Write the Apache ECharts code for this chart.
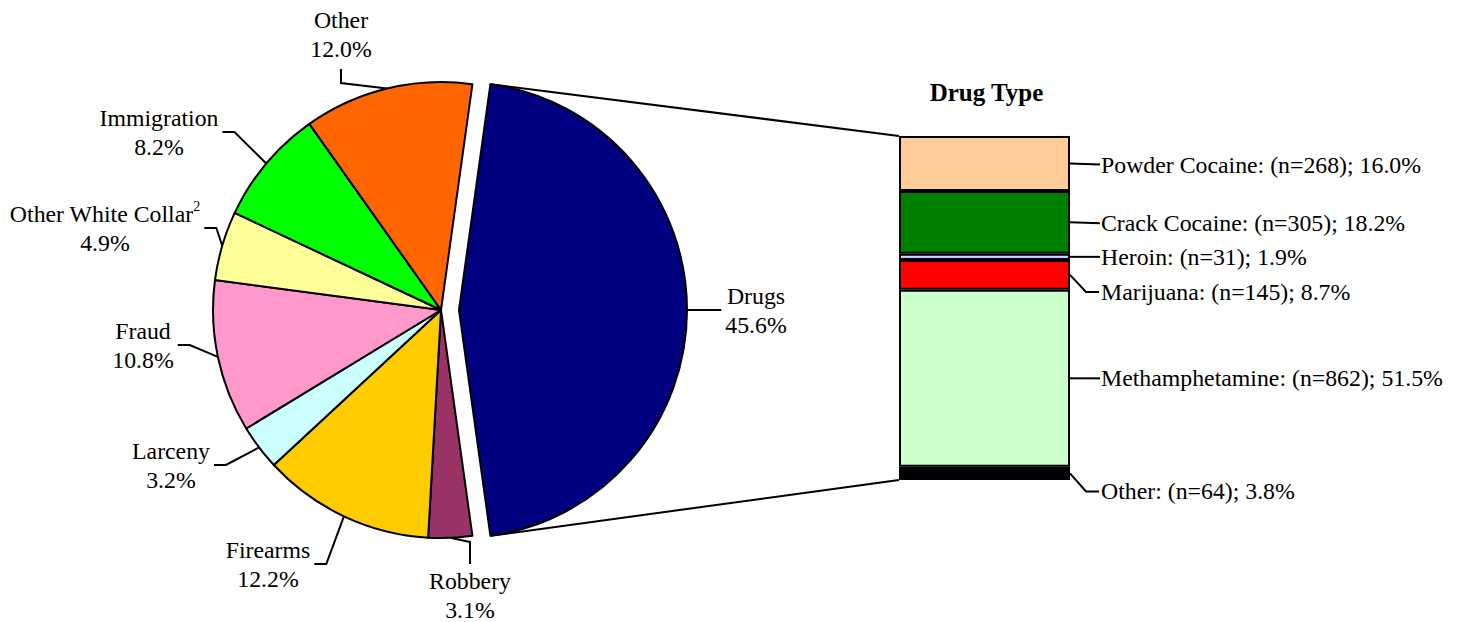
<!DOCTYPE html>
<html><head><meta charset="utf-8">
<script src="https://cdn.jsdelivr.net/npm/echarts@6/dist/echarts.min.js"></script>
<style>html,body{margin:0;padding:0;background:#fff}#c{width:1458px;height:622px}</style>
</head><body><div id="c"></div>
<script>
// ---------------- data ----------------
const offenseNames = ['Drugs', 'Robbery', 'Firearms', 'Larceny', 'Fraud', 'Other White Collar', 'Immigration', 'Other'];
const offenseShares = [45.6, 3.1, 12.2, 3.2, 10.8, 4.9, 8.2, 12.0];
const offenseNotes = ['', '', '', '', '', '2', '', ''];
const drugTitle = 'Drug Type';
const drugTypes = ['Powder Cocaine', 'Crack Cocaine', 'Heroin', 'Marijuana', 'Methamphetamine', 'Other'];
const drugCounts = [268, 305, 31, 145, 862, 64];
const drugShares = [16.0, 18.2, 1.9, 8.7, 51.5, 3.8];

// ---------------- styles / layout ----------------
const FONT = '"Liberation Serif", "Times New Roman", serif';
const FS = 23.8, LH = 29;
const LW = 2;
const offenseColors = ['#000080', '#993366', '#FFCC00', '#CCFFFF', '#FF99CC', '#FFFF99', '#00FF00', '#FF6600'];
const drugColors = ['#FFCC99', '#008000', '#CCCCFF', '#FF0000', '#CCFFCC', '#000000'];
const PIE = { cx: 441, cy: 310, r: 228, explode: 18 };
const explodedIndex = 0;
const BAR = { left: 899, right: 1070, top: 136, bottom: 480 };
const pieLabelPos = [
  { x: 756, y: 310, side: 'right' },
  { x: 470, y: 595, side: 'bottom' },
  { x: 268, y: 564, side: 'left' },
  { x: 171, y: 465, side: 'left' },
  { x: 143, y: 345, side: 'left' },
  { x: 105, y: 228, side: 'left' },
  { x: 159, y: 132, side: 'left' },
  { x: 341, y: 34, side: 'top' }
];
const barLabelDy = [1, 1, 0, 17, 0, 18];

const shareTotal = offenseShares.reduce((a, b) => a + b, 0);
const drugTotal = drugCounts.reduce((a, b) => a + b, 0);
const startAngle = 180 * offenseShares[explodedIndex] / shareTotal;

const chart = echarts.init(document.getElementById('c'), null, { renderer: 'svg' });

function pieLabelLayout(p) {
  const pos = pieLabelPos[p.dataIndex];
  if (!pos || !p.labelRect) return {};
  const x = pos.x, y = pos.y;
  const w = p.labelRect.width, h = p.labelRect.height;
  const s = p.labelLinePoints ? p.labelLinePoints[0] : [x, y];
  let pts;
  if (pos.side === 'right') {
    const e = [x - w / 2 - 4, y];
    pts = [s, [(s[0] + e[0]) / 2, (s[1] + e[1]) / 2], e];
  } else if (pos.side === 'left') {
    pts = [s, [x + w / 2 + 16, y], [x + w / 2 + 4, y]];
  } else if (pos.side === 'top') {
    pts = [s, [x, y + h / 2 + 20], [x, y + h / 2 + 6]];
  } else {
    pts = [s, [x, y - h / 2 - 24], [x, y - h / 2 - 2]];
  }
  return { x: x, y: y, align: 'center', verticalAlign: 'middle', labelLinePoints: pts };
}

const hidden = {
  itemStyle: { color: 'rgba(0,0,0,0)', borderWidth: 0 },
  label: { show: false }, labelLine: { show: false }
};

// two pie series share the same data; one draws the exploded slice, shifted outward
function makePie(showExploded) {
  const mid = 0; // exploded slice is centred on the 3 o'clock direction
  const off = showExploded ? PIE.explode : 0;
  return {
    type: 'pie',
    center: [PIE.cx + off * Math.cos(mid), PIE.cy - off * Math.sin(mid)],
    radius: PIE.r,
    startAngle: startAngle,
    clockwise: true,
    avoidLabelOverlap: false,
    animation: false,
    silent: true,
    emphasis: { disabled: true },
    itemStyle: { borderColor: '#000', borderWidth: LW },
    label: {
      show: true, position: 'outside', color: '#000', fontFamily: FONT, fontSize: FS, lineHeight: LH,
      formatter: function (p) {
        const note = offenseNotes[p.dataIndex];
        return '{t|' + p.name + '}' + (note ? '{s|' + note + '}' : '') + '\n{t|' + p.value.toFixed(1) + '%}';
      },
      rich: {
        t: { fontFamily: FONT, fontSize: FS, lineHeight: LH, align: 'center', color: '#000' },
        s: { fontFamily: FONT, fontSize: 14, lineHeight: 16, align: 'center', verticalAlign: 'top', color: '#000' }
      }
    },
    labelLine: { show: true, lineStyle: { color: '#000', width: LW } },
    labelLayout: pieLabelLayout,
    data: offenseNames.map((n, i) => {
      const visible = showExploded ? i === explodedIndex : i !== explodedIndex;
      return Object.assign({ name: n, value: offenseShares[i] },
        visible ? { itemStyle: { color: offenseColors[i] } } : hidden);
    })
  };
}

const series = [makePie(false), makePie(true)];

drugTypes.forEach((n, i) => {
  series.push({
    type: 'bar', name: n, stack: 'drug', barWidth: '100%', animation: false, silent: true,
    xAxisIndex: 0, yAxisIndex: 0,
    data: [drugCounts[i]],
    itemStyle: { color: drugColors[i], borderColor: '#000', borderWidth: LW },
    label: {
      show: true, position: 'right', distance: 31, color: '#000', fontFamily: FONT, fontSize: FS,
      formatter: n + ': (n=' + drugCounts[i] + '); ' + drugShares[i].toFixed(1) + '%'
    },
    labelLayout: { dy: barLabelDy[i] }
  });
});

chart.setOption({
  animation: false,
  backgroundColor: '#fff',
  title: {
    text: drugTitle, left: (BAR.left + BAR.right) / 2 + 2, top: 80, textAlign: 'center', padding: 0,
    textStyle: { fontFamily: FONT, fontWeight: 'bold', fontSize: 25, color: '#000' }
  },
  grid: { left: BAR.left, top: BAR.top, width: BAR.right - BAR.left, height: BAR.bottom - BAR.top, containLabel: false },
  xAxis: { type: 'category', data: ['Drugs'], show: false },
  yAxis: { type: 'value', inverse: true, min: 0, max: drugTotal, show: false },
  series: series
});

// connector lines and bar leader lines computed from chart geometry
const half = Math.PI * offenseShares[explodedIndex] / shareTotal;
const ex = PIE.cx + PIE.explode;
const topPt = [ex + PIE.r * Math.cos(half), PIE.cy - PIE.r * Math.sin(half)];
const botPt = [ex + PIE.r * Math.cos(half), PIE.cy + PIE.r * Math.sin(half)];
const yTop = chart.convertToPixel({ yAxisIndex: 0 }, 0);
const yBot = chart.convertToPixel({ yAxisIndex: 0 }, drugTotal);
const lineStyle = { stroke: '#000', lineWidth: LW, fill: null };
const graphics = [
  { type: 'polyline', shape: { points: [topPt, [BAR.left, yTop]] }, style: lineStyle, z: 10, silent: true },
  { type: 'polyline', shape: { points: [botPt, [BAR.left, yBot]] }, style: lineStyle, z: 10, silent: true }
];
let cum = 0;
drugCounts.forEach((v, i) => {
  const mid = chart.convertToPixel({ yAxisIndex: 0 }, cum + v / 2);
  cum += v;
  const dy = barLabelDy[i];
  const pts = Math.abs(dy) < 3
    ? [[BAR.right, mid], [BAR.right + 30, mid + dy]]
    : [[BAR.right, mid], [BAR.right + 16, mid + dy], [BAR.right + 29, mid + dy]];
  graphics.push({ type: 'polyline', shape: { points: pts }, style: lineStyle, z: 10, silent: true });
});
chart.setOption({ graphic: graphics });
</script>
</body></html>
